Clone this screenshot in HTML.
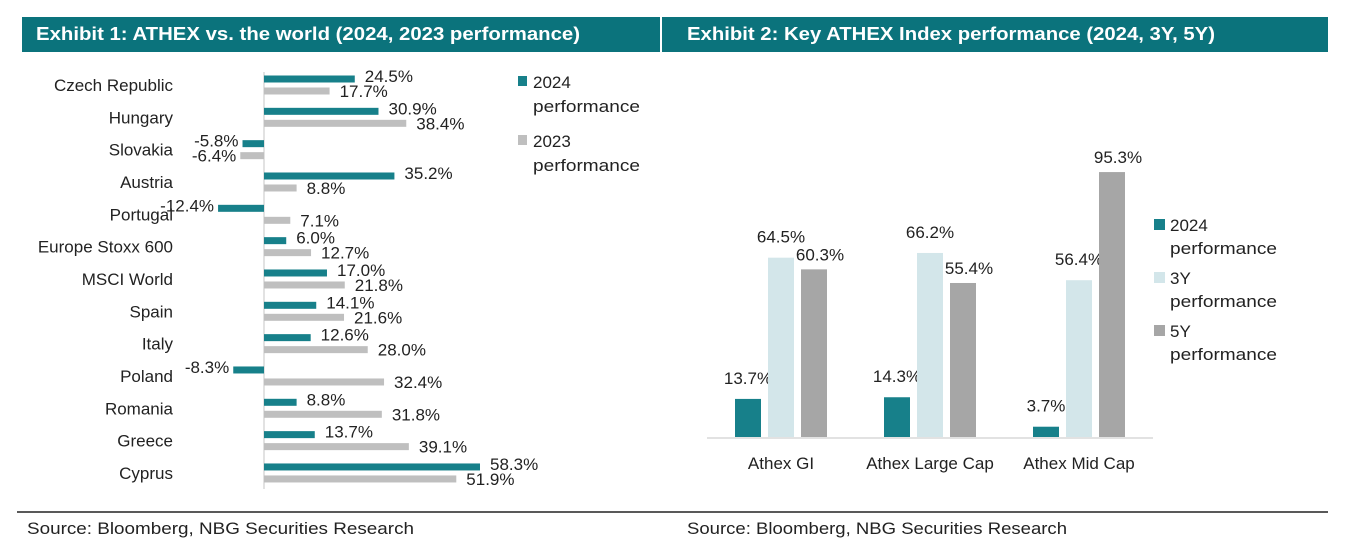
<!DOCTYPE html>
<html><head><meta charset="utf-8">
<style>
body{margin:0;background:#fff;width:1346px;height:544px;overflow:hidden;font-family:"Liberation Sans",sans-serif}
svg text{font-family:"Liberation Sans",sans-serif}
</style></head>
<body>
<svg width="1346" height="544">
<rect x="22" y="17" width="638" height="35" fill="#0b737c"/>
<rect x="662" y="17" width="666" height="35" fill="#0b737c"/>
<text x="36" y="40" fill="#fff" font-weight="bold" font-size="18" textLength="544" lengthAdjust="spacingAndGlyphs">Exhibit 1: ATHEX vs. the world (2024, 2023 performance)</text>
<text x="687" y="40" fill="#fff" font-weight="bold" font-size="18" textLength="528" lengthAdjust="spacingAndGlyphs">Exhibit 2: Key ATHEX Index performance (2024, 3Y, 5Y)</text>
<g id="c1"></g>
<g id="c2"></g>
<line x1="17" y1="512" x2="1328" y2="512" stroke="#222" stroke-width="1.5"/>
<text x="27" y="534" font-size="17" fill="#222" textLength="387" lengthAdjust="spacingAndGlyphs">Source: Bloomberg, NBG Securities Research</text>
<text x="687" y="534" font-size="17" fill="#222" textLength="380" lengthAdjust="spacingAndGlyphs">Source: Bloomberg, NBG Securities Research</text>
</svg>
<script>
const NS="http://www.w3.org/2000/svg";
function mk(p,t,a,txt){const e=document.createElementNS(NS,t);for(const k in a)e.setAttribute(k,a[k]);if(txt!=null)e.textContent=txt;p.appendChild(e);return e;}
// Chart 1 data
const countries=["Czech Republic","Hungary","Slovakia","Austria","Portugal","Europe Stoxx 600","MSCI World","Spain","Italy","Poland","Romania","Greece","Cyprus"];
const perf2024=[24.5,30.9,-5.8,35.2,-12.4,6.0,17.0,14.1,12.6,-8.3,8.8,13.7,58.3];
const perf2023=[17.7,38.4,-6.4,8.8,7.1,12.7,21.8,21.6,28.0,32.4,31.8,39.1,51.9];
// Chart 2 data
const indices=["Athex GI","Athex Large Cap","Athex Mid Cap"];
const perfYTD=[13.7,14.3,3.7];
const perf3Y=[64.5,66.2,56.4];
const perf5Y=[60.3,55.4,95.3];

const FS=17;
const c1=document.getElementById('c1');
const x0=264, sx=3.705;
const xs=v=>x0+v*sx;
const yc=i=>85+i*32.33;
const fmt=v=>v.toFixed(1)+"%";
mk(c1,'line',{x1:x0,y1:72,x2:x0,y2:489,stroke:'#d9d9d9','stroke-width':1.5});
countries.forEach((c,i)=>{
  const y=yc(i);
  let t=mk(c1,'text',{x:173,y:y+6,'font-size':FS,'text-anchor':'end',fill:'#222'},c);
  
  
  [[perf2024[i],-6,'#17808a'],[perf2023[i],6,'#bfbfbf']].forEach(([v,dy,col],k)=>{
    const a=xs(Math.min(0,v)),b=xs(Math.max(0,v));
    let r=mk(c1,'rect',{x:a,y:y+dy-3.5,width:b-a,height:7,fill:col});
    
    
    const lx=v>=0?xs(v)+10:xs(v)-4;
    let l=mk(c1,'text',{x:lx,y:y+dy+(k?6:3),'font-size':FS,fill:'#222','text-anchor':v>=0?'start':'end'},fmt(v));
    
    
  });
});
[['2024','#17808a',76],['2023','#bfbfbf',135]].forEach(([n,col,y])=>{
  let s=mk(c1,'rect',{x:518,y:y,width:9,height:10,fill:col});
  
  
  let t=mk(c1,'text',{x:533,y:y+12,'font-size':FS,fill:'#222'},n);
  
  
  mk(c1,'text',{x:533,y:y+36,'font-size':FS,fill:'#222',textLength:107,lengthAdjust:'spacingAndGlyphs'},'performance');
});

const c2=document.getElementById('c2');
const base=437, sy=2.78;
const ys=v=>base-v*sy;
mk(c2,'line',{x1:707,y1:base+1,x2:1153,y2:base+1,stroke:'#d9d9d9','stroke-width':1.5});
const cols=['#17808a','#d3e6ea','#a6a6a6'];
const series=[perfYTD,perf3Y,perf5Y];
indices.forEach((n,i)=>{
  const gx=735+i*149;
  series.forEach((s,k)=>{
    const x=gx+k*33, v=s[i];
    let r=mk(c2,'rect',{x:x,y:ys(v),width:26,height:base-ys(v),fill:cols[k]});
    
    
    let l=mk(c2,'text',{x:x+13+(k==2?6:0),y:ys(v)-(k==2?9:15),'font-size':FS,fill:'#222','text-anchor':'middle'},fmt(v));
    
    
  });
  let t=mk(c2,'text',{x:gx+46,y:469,'font-size':FS,fill:'#222','text-anchor':'middle'},n);
  
  
});
[['2024',0,219],['3Y',1,272],['5Y',2,325]].forEach(([n,k,y])=>{
  let s=mk(c2,'rect',{x:1154,y:y,width:11,height:11,fill:cols[k]});
  
  
  let t=mk(c2,'text',{x:1170,y:y+12,'font-size':FS,fill:'#222'},n);
  
  
  mk(c2,'text',{x:1170,y:y+35,'font-size':FS,fill:'#222',textLength:107,lengthAdjust:'spacingAndGlyphs'},'performance');
});
</script>
</body></html>
